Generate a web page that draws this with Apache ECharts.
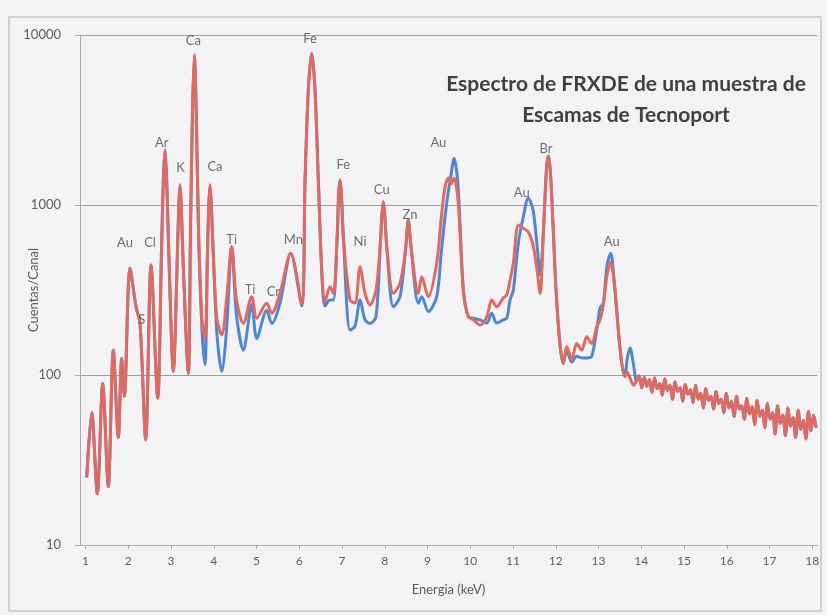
<!DOCTYPE html>
<html>
<head>
<meta charset="utf-8">
<script src="https://cdn.jsdelivr.net/npm/echarts@6/dist/echarts.min.js"></script>
<style>
  html, body { margin: 0; padding: 0; background: #f3f3f5; }
  #chart { width: 827px; height: 615px; }
</style>
</head>
<body>
<div id="chart"></div>
<script>
// Energy of each channel (keV)
const energia = [
  1.028, 1.145, 1.276, 1.402, 1.533, 1.650, 1.767, 1.847, 1.908, 2.041,
  2.181, 2.275, 2.408, 2.532, 2.689, 2.778, 2.820, 2.860, 2.899, 2.953,
  3.054, 3.152, 3.182, 3.211, 3.239, 3.281, 3.405, 3.456, 3.503, 3.545,
  3.589, 3.643, 3.725, 3.795, 3.854, 3.884, 3.912, 3.943, 3.994, 4.076,
  4.186, 4.298, 4.420, 4.532, 4.691, 4.888, 5.005, 5.239, 5.356, 5.550,
  5.800, 6.057, 6.135, 6.212, 6.291, 6.368, 6.446, 6.525, 6.602, 6.719,
  6.797, 6.888, 6.920, 6.953, 6.986, 7.035, 7.187, 7.304, 7.421, 7.538,
  7.655, 7.795, 7.901, 7.933, 7.966, 7.999, 8.053, 8.200, 8.357, 8.485,
  8.551, 8.609, 8.785, 8.864, 9.019, 9.215, 9.316, 9.409, 9.491, 9.550,
  9.620, 9.713, 9.838, 9.954, 10.071, 10.228, 10.385, 10.502, 10.619, 10.773,
  10.853, 10.930, 11.007, 11.124, 11.241, 11.358, 11.468, 11.561, 11.632, 11.713,
  11.781, 11.826, 11.870, 11.920, 12.006, 12.100, 12.177, 12.256, 12.373, 12.490,
  12.607, 12.724, 12.841, 12.958, 13.035, 13.112, 13.199, 13.285, 13.374, 13.463,
  13.543, 13.620, 13.667, 13.737, 13.819, 13.889,
  13.95, 14.01, 14.07, 14.13, 14.19, 14.25, 14.31, 14.37, 14.43, 14.49,
  14.55, 14.61, 14.67, 14.73, 14.79, 14.85, 14.91, 14.97, 15.03, 15.09,
  15.15, 15.21, 15.27, 15.33, 15.39, 15.45, 15.51, 15.57, 15.63, 15.69,
  15.75, 15.81, 15.87, 15.93, 15.99, 16.05, 16.11, 16.17, 16.23, 16.29,
  16.35, 16.41, 16.47, 16.53, 16.59, 16.65, 16.71, 16.77, 16.83, 16.89,
  16.95, 17.01, 17.07, 17.13, 17.19, 17.25, 17.31, 17.37, 17.43, 17.49,
  17.55, 17.61, 17.67, 17.73, 17.79, 17.85, 17.91, 17.97, 18.03, 18.09
];

// Counts per channel, red spectrum
const cuentasRojo = [
  25, 60, 20, 89, 22, 140, 43, 125, 75, 424,
  252, 201, 41.5, 444, 73, 543, 1403, 2107, 1403, 474,
  105, 543, 1000, 1312, 1000, 474, 102, 713, 3622, 7625,
  3622, 713, 211, 164, 543, 1000, 1312, 1000, 474, 211,
  172, 276, 569, 276, 201, 289, 216, 264, 231, 304,
  520, 264, 1403, 4746, 7806, 4746, 1403, 415, 270, 331,
  302, 666, 1145, 1403, 1145, 622, 276, 265, 434, 302,
  258, 316, 622, 873, 1045, 873, 543, 302, 346, 543,
  816, 582, 302, 379, 289, 454, 816, 1282, 1442, 1330,
  1442, 1070, 316, 220, 211, 197, 220, 276, 252, 284,
  296, 362, 454, 762, 729, 694, 582, 415, 302, 713,
  1607, 1941, 1607, 934, 316, 150, 117, 147, 123, 153,
  140, 168, 153, 192, 211, 258, 387, 462, 338, 184,
  117, 98, 104, 96, 87, 92,
  99, 84, 97, 86, 94, 79, 96, 83, 89, 76,
  95, 81, 87, 72, 91, 80, 84, 70, 88, 77,
  82, 69, 87, 72, 78, 64, 83, 71, 75, 63,
  80, 68, 72, 60, 78, 64, 70, 57, 75, 63,
  66, 55, 73, 59, 65, 51, 71, 57, 62, 49,
  68, 55, 60, 45, 66, 52, 58, 44, 64, 50,
  56, 43, 62, 48, 54, 42, 61, 47, 58, 49
];

// Counts per channel, blue spectrum
const cuentasAzul = [
  25, 60, 20, 89, 22, 140, 43, 125, 75, 424,
  252, 201, 41.5, 444, 73, 543, 1403, 2107, 1403, 474,
  105, 543, 1000, 1312, 1000, 474, 102, 713, 3622, 7625,
  3622, 713, 184, 115, 543, 1000, 1312, 1000, 474, 172,
  105, 184, 569, 225, 140, 260, 164, 240, 201, 265,
  520, 255, 1403, 4746, 7806, 4746, 1403, 415, 255, 276,
  276, 666, 1145, 1403, 1145, 622, 184, 194, 276, 211,
  201, 220, 622, 873, 1045, 873, 543, 252, 289, 543,
  816, 582, 264, 289, 236, 289, 508, 853, 1225, 1501,
  1883, 1312, 316, 220, 216, 211, 202, 231, 202, 211,
  216, 276, 316, 595, 853, 1099, 934, 582, 387, 713,
  1607, 1941, 1607, 934, 316, 150, 117, 140, 119, 129,
  126, 126, 129, 184, 248, 265, 444, 520, 338, 184,
  117, 98, 123, 144, 115, 92,
  99, 84, 97, 86, 94, 79, 96, 83, 89, 76,
  95, 81, 87, 72, 91, 80, 84, 70, 88, 77,
  82, 69, 87, 72, 78, 64, 83, 71, 75, 63,
  80, 68, 72, 60, 78, 64, 70, 57, 75, 63,
  66, 55, 73, 59, 65, 51, 71, 57, 62, 49,
  68, 55, 60, 45, 66, 52, 58, 44, 64, 50,
  56, 43, 62, 48, 54, 42, 61, 47, 58, 49
];

// Energy tick labels (keV)
const ticksEnergia = [1, 2, 3, 4, 5, 6, 7, 8, 9, 10, 11, 12, 13, 14, 15, 16, 17, 18];

// Element labels and where they sit (keV, counts)
const picos = ['Ca', 'Fe', 'Ar', 'K', 'Ca', 'Au', 'Cl', 'S', 'Ti', 'Ti', 'Cr', 'Mn',
               'Fe', 'Ni', 'Cu', 'Zn', 'Au', 'Au', 'Br', 'Au'];
const picosEnergia = [3.522, 6.251, 2.782, 3.222, 4.029, 1.924, 2.509, 2.315, 4.420, 4.848, 5.393, 5.861,
                      7.030, 7.421, 7.929, 8.591, 9.253, 11.204, 11.772, 13.309];
const picosCuentas = [9225, 9469, 2317, 1651, 1674, 598, 598, 211, 622, 316, 309, 622,
                      1719, 608, 1225, 873, 2307, 1172, 2153, 608];

const titulo = 'Espectro de FRXDE de una muestra de\nEscamas de Tecnoport';
const ejeX = 'Energia (keV)';
const ejeY = 'Cuentas/Canal';

const serie = (valores) => energia.map((e, i) => [e, valores[i]]);
const etiquetas = picos.map((p, i) => ({ name: p, value: [picosEnergia[i], picosCuentas[i]] }));

const FONT = 'Lato, "Open Sans", sans-serif';
const chart = echarts.init(document.getElementById('chart'), null, { renderer: 'canvas' });

chart.setOption({
  backgroundColor: '#f3f3f5',
  animation: false,
  title: {
    text: titulo,
    left: 621,
    top: 64,
    textAlign: 'center',
    textStyle: {
      fontFamily: FONT, fontWeight: 'bold', fontSize: 21,
      color: '#404040', lineHeight: 31
    }
  },
  graphic: [{
    type: 'rect',
    shape: { x: 9, y: 17, width: 812, height: 594 },
    style: { fill: 'none', stroke: '#c6c6ca', lineWidth: 1.5 },
    silent: true
  }],
  grid: { left: 80, right: 10, top: 35, bottom: 70 },
  xAxis: {
    type: 'value',
    min: 0.871,
    max: 18.11,
    name: ejeX,
    nameLocation: 'middle',
    nameGap: 38,
    nameMoveOverlap: false,
    nameTextStyle: { fontFamily: FONT, fontSize: 13, color: '#5a5a5a' },
    axisLine: { lineStyle: { color: '#a9a9ad', width: 1 } },
    axisTick: { show: true, length: 4, customValues: ticksEnergia, lineStyle: { color: '#a9a9ad' } },
    axisLabel: { customValues: ticksEnergia, fontFamily: FONT, fontSize: 12, color: '#5e5e5e', margin: 10 },
    splitLine: { show: false }
  },
  yAxis: {
    type: 'log',
    logBase: 10,
    min: 10,
    max: 10000,
    name: ejeY,
    nameLocation: 'middle',
    nameGap: 40,
    nameRotate: 90,
    nameMoveOverlap: false,
    nameTextStyle: { fontFamily: FONT, fontSize: 13, color: '#5a5a5a' },
    axisLine: { show: true, lineStyle: { color: '#a9a9ad', width: 1 } },
    axisTick: { show: true, length: 5, lineStyle: { color: '#a9a9ad' } },
    axisLabel: {
      fontFamily: FONT, fontSize: 13, color: '#5e5e5e', margin: 19,
      formatter: (v) => String(Math.round(v))
    },
    splitLine: { show: true, lineStyle: { color: '#9e9ea2', width: 1.2 } }
  },
  series: [
    {
      name: 'espectroAzul',
      type: 'line',
      data: serie(cuentasAzul),
      showSymbol: false,
      smooth: 0.3,
      lineStyle: { color: '#4f87d3', width: 3 },
      z: 2
    },
    {
      name: 'espectroRojo',
      type: 'line',
      data: serie(cuentasRojo),
      showSymbol: false,
      smooth: 0.3,
      lineStyle: { color: '#e06a60', width: 3 },
      z: 3
    },
    {
      name: 'elementos',
      type: 'scatter',
      data: etiquetas,
      symbolSize: 0,
      silent: true,
      z: 5,
      label: {
        show: true,
        position: 'inside',
        formatter: (p) => p.name,
        fontFamily: FONT,
        fontSize: 13,
        color: '#4c4c4c'
      }
    }
  ]
});
</script>
</body>
</html>
